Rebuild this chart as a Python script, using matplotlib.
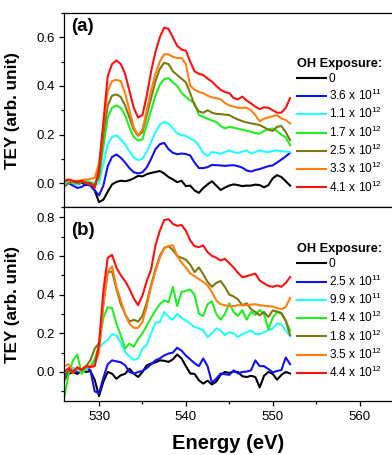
import numpy as np
import matplotlib
matplotlib.use('Agg')
import matplotlib.pyplot as plt
from matplotlib.ticker import MultipleLocator

plt.rcParams['font.family'] = ['Liberation Sans', 'DejaVu Sans']
plt.rcParams['mathtext.fontset'] = 'custom'
plt.rcParams['mathtext.rm'] = 'Liberation Sans'
plt.rcParams['mathtext.it'] = 'Liberation Sans:italic'
plt.rcParams['mathtext.bf'] = 'Liberation Sans:bold'

# energy grid (eV), 0.5 eV steps from 526 to 552
energy = np.arange(526, 552.25, 0.5)

colors = ['black', '#1010ff', '#22ffff', '#22ee22', '#7a7a10', '#ff8010', '#ff1010']

# ---- panel (a) ----
labels_a = ['0', '3.6 x 10$^{11}$', '1.1 x 10$^{12}$', '1.7 x 10$^{12}$',
            '2.5 x 10$^{12}$', '3.3 x 10$^{12}$', '4.1 x 10$^{12}$']

a0 = [0.005, 0.010, 0.000, -0.005, 0.002, -0.008, -0.004, -0.030, -0.078, -0.068,
      -0.035, -0.005, 0.005, 0.010, 0.008, 0.012, 0.020, 0.030, 0.028, 0.037,
      0.042, 0.046, 0.050, 0.040, 0.025, 0.016, 0.004, 0.010, -0.012, -0.010,
      -0.030, -0.040, -0.020, -0.005, 0.008, -0.010, -0.028, -0.018, -0.010, -0.005,
      -0.008, -0.012, -0.010, -0.010, -0.006, -0.008, -0.017, -0.008, 0.020, 0.033,
      0.025, 0.008, -0.010]
a1 = [0.005, 0.000, -0.010, -0.020, -0.015, -0.005, -0.010, -0.030, -0.050, -0.010,
      0.070, 0.108, 0.118, 0.105, 0.085, 0.062, 0.045, 0.040, 0.045, 0.065,
      0.100, 0.140, 0.160, 0.166, 0.140, 0.125, 0.119, 0.122, 0.120, 0.114,
      0.085, 0.062, 0.062, 0.066, 0.075, 0.074, 0.073, 0.071, 0.073, 0.074,
      0.070, 0.064, 0.052, 0.048, 0.054, 0.058, 0.064, 0.070, 0.073, 0.085,
      0.097, 0.110, 0.125]
a2 = [0.000, 0.005, 0.000, -0.005, 0.005, 0.012, 0.005, -0.010, 0.000, 0.080,
      0.160, 0.190, 0.197, 0.180, 0.160, 0.130, 0.105, 0.095, 0.100, 0.130,
      0.170, 0.210, 0.240, 0.252, 0.245, 0.225, 0.205, 0.198, 0.195, 0.184,
      0.175, 0.155, 0.125, 0.112, 0.128, 0.125, 0.121, 0.128, 0.135, 0.128,
      0.124, 0.130, 0.135, 0.122, 0.128, 0.135, 0.130, 0.128, 0.132, 0.135,
      0.132, 0.130, 0.128]
a3 = [0.005, 0.010, 0.005, 0.000, 0.005, 0.008, 0.002, 0.000, 0.020, 0.150,
      0.270, 0.310, 0.320, 0.310, 0.280, 0.230, 0.190, 0.175, 0.180, 0.240,
      0.300, 0.360, 0.405, 0.428, 0.432, 0.415, 0.400, 0.372, 0.355, 0.340,
      0.329, 0.280, 0.273, 0.265, 0.258, 0.252, 0.235, 0.225, 0.232, 0.228,
      0.224, 0.220, 0.216, 0.211, 0.206, 0.204, 0.215, 0.222, 0.225, 0.213,
      0.200, 0.188, 0.156]
a4 = [-0.015, 0.000, 0.005, 0.000, 0.005, 0.000, -0.005, -0.010, 0.030, 0.200,
      0.320, 0.360, 0.365, 0.355, 0.320, 0.270, 0.220, 0.195, 0.210, 0.280,
      0.350, 0.420, 0.470, 0.495, 0.490, 0.460, 0.445, 0.430, 0.415, 0.370,
      0.320, 0.295, 0.290, 0.300, 0.290, 0.285, 0.284, 0.282, 0.280, 0.270,
      0.262, 0.255, 0.250, 0.246, 0.243, 0.239, 0.230, 0.220, 0.215, 0.232,
      0.235, 0.210, 0.177]
a5 = [0.010, 0.012, 0.008, 0.010, 0.012, 0.015, 0.018, 0.022, 0.080, 0.240,
      0.380, 0.420, 0.425, 0.420, 0.370, 0.300, 0.230, 0.197, 0.220, 0.300,
      0.380, 0.450, 0.500, 0.530, 0.530, 0.520, 0.515, 0.515, 0.490, 0.400,
      0.385, 0.375, 0.370, 0.360, 0.353, 0.350, 0.345, 0.330, 0.320, 0.315,
      0.310, 0.310, 0.310, 0.300, 0.280, 0.255, 0.265, 0.270, 0.275, 0.280,
      0.266, 0.260, 0.246]
a6 = [0.010, 0.015, 0.010, 0.005, 0.010, 0.000, 0.000, -0.020, 0.060, 0.250,
      0.440, 0.490, 0.505, 0.490, 0.450, 0.380, 0.310, 0.270, 0.280, 0.360,
      0.460, 0.540, 0.600, 0.640, 0.635, 0.600, 0.565, 0.550, 0.545, 0.500,
      0.460, 0.450, 0.445, 0.430, 0.418, 0.400, 0.384, 0.375, 0.370, 0.350,
      0.345, 0.356, 0.340, 0.328, 0.315, 0.305, 0.312, 0.310, 0.300, 0.290,
      0.290, 0.310, 0.350]

# ---- panel (b) ----
labels_b = ['0', '2.5 x 10$^{11}$', '9.9 x 10$^{11}$', '1.4 x 10$^{12}$',
            '1.8 x 10$^{12}$', '3.5 x 10$^{12}$', '4.4 x 10$^{12}$']

b0 = [-0.040, -0.010, 0.000, -0.010, 0.010, 0.000, 0.005, -0.040, -0.125, -0.050,
      0.000, -0.009, -0.035, -0.017, -0.010, 0.017, -0.009, -0.026, 0.000, 0.035,
      0.043, 0.050, 0.060, 0.058, 0.052, 0.065, 0.090, 0.070, 0.030, -0.008,
      -0.010, -0.043, -0.060, -0.045, -0.065, -0.050, -0.015, 0.000, -0.005, 0.002,
      0.000, -0.022, -0.026, -0.020, -0.026, -0.080, -0.020, 0.000, -0.010, -0.040,
      -0.015, 0.000, -0.008]
b1 = [-0.025, 0.010, 0.020, 0.000, 0.015, 0.025, 0.010, -0.100, -0.110, -0.030,
      0.040, 0.060, 0.055, 0.050, 0.035, 0.000, -0.009, 0.000, 0.005, 0.020,
      0.040, 0.060, 0.070, 0.085, 0.095, 0.100, 0.125, 0.110, 0.085, 0.065,
      0.045, 0.030, 0.070, 0.030, -0.055, -0.035, -0.008, -0.012, -0.015, 0.008,
      -0.008, 0.000, 0.002, 0.008, 0.060, 0.030, 0.030, 0.015, -0.002, 0.005,
      0.010, 0.075, 0.040]
b2 = [0.000, 0.010, 0.020, 0.010, 0.000, 0.015, 0.030, 0.070, 0.125, 0.150,
      0.165, 0.195, 0.190, 0.150, 0.103, 0.080, 0.062, 0.070, 0.120, 0.140,
      0.200, 0.255, 0.258, 0.310, 0.285, 0.270, 0.300, 0.280, 0.265, 0.250,
      0.232, 0.225, 0.215, 0.180, 0.200, 0.225, 0.215, 0.190, 0.205, 0.200,
      0.180, 0.195, 0.205, 0.215, 0.195, 0.195, 0.205, 0.215, 0.225, 0.250,
      0.245, 0.215, 0.185]
b3 = [-0.130, -0.010, 0.060, 0.090, -0.010, 0.020, 0.030, 0.060, 0.140, 0.280,
      0.335, 0.330, 0.250, 0.190, 0.121, 0.147, 0.130, 0.170, 0.200, 0.240,
      0.280, 0.318, 0.350, 0.370, 0.360, 0.440, 0.340, 0.413, 0.420, 0.425,
      0.400, 0.300, 0.290, 0.350, 0.365, 0.300, 0.270, 0.300, 0.355, 0.310,
      0.290, 0.320, 0.270, 0.310, 0.295, 0.320, 0.300, 0.220, 0.280, 0.310,
      0.300, 0.265, 0.215]
b4 = [-0.040, 0.010, -0.005, 0.020, 0.010, 0.030, 0.060, 0.120, 0.150, 0.350,
      0.515, 0.520, 0.430, 0.350, 0.300, 0.260, 0.270, 0.260, 0.290, 0.360,
      0.450, 0.530, 0.600, 0.640, 0.650, 0.630, 0.600, 0.590, 0.580, 0.555,
      0.516, 0.540, 0.505, 0.465, 0.440, 0.460, 0.470, 0.439, 0.400, 0.390,
      0.375, 0.345, 0.355, 0.325, 0.310, 0.293, 0.310, 0.284, 0.318, 0.312,
      0.305, 0.265, 0.190]
b5 = [0.030, 0.040, 0.000, 0.020, 0.015, 0.030, 0.030, 0.040, 0.100, 0.350,
      0.520, 0.545, 0.440, 0.370, 0.300, 0.250, 0.228, 0.228, 0.260, 0.340,
      0.440, 0.520, 0.590, 0.640, 0.650, 0.655, 0.600, 0.565, 0.540, 0.510,
      0.495, 0.480, 0.465, 0.447, 0.413, 0.370, 0.350, 0.345, 0.340, 0.340,
      0.345, 0.345, 0.345, 0.348, 0.350, 0.345, 0.342, 0.340, 0.338, 0.330,
      0.325, 0.335, 0.383]
b6 = [0.000, 0.020, 0.000, 0.025, 0.010, 0.030, 0.025, 0.030, 0.140, 0.420,
      0.590, 0.605, 0.540, 0.500, 0.470, 0.430, 0.380, 0.345, 0.395, 0.470,
      0.530, 0.655, 0.730, 0.785, 0.790, 0.765, 0.755, 0.760, 0.730, 0.680,
      0.650, 0.645, 0.654, 0.619, 0.600, 0.590, 0.576, 0.585, 0.562, 0.540,
      0.512, 0.490, 0.495, 0.502, 0.508, 0.473, 0.458, 0.445, 0.440, 0.447,
      0.440, 0.460, 0.490]

series_a = [a0, a1, a2, a3, a4, a5, a6]
series_b = [b0, b1, b2, b3, b4, b5, b6]

fig = plt.figure(figsize=(3.92, 4.55), dpi=100)
ax1 = fig.add_axes([0.164, 0.544, 0.864, 0.4274])
ax2 = fig.add_axes([0.164, 0.1187, 0.864, 0.4253])


def style_axis(ax, ylim, legend_y, labels, series, tag, tag_y):
    for y, c, lab in zip(series, colors, labels):
        ax.plot(energy, y, color=c, lw=1.5, label=lab)
    ax.set_xlim(526, 565)
    ax.set_ylim(*ylim)
    ax.yaxis.set_major_locator(MultipleLocator(0.2))
    ax.yaxis.set_minor_locator(MultipleLocator(0.1))
    ax.tick_params(which='both', direction='out', width=0.9, labelsize=9.5)
    ax.tick_params(which='major', length=3.5)
    ax.tick_params(which='minor', length=2.5)
    for s in ax.spines.values():
        s.set_linewidth(0.9)
    ax.set_ylabel('TEY (arb. unit)', fontsize=12.3, fontweight='bold')
    ax.yaxis.set_label_coords(-0.131, 0.5)
    ax.text(0.02, tag_y, tag, transform=ax.transAxes, fontsize=13.5,
            fontweight='bold', va='top', ha='left')
    leg = ax.legend(loc='upper left', bbox_to_anchor=(0.687, legend_y),
                    frameon=False, fontsize=8.6, title='OH Exposure:',
                    title_fontproperties={'weight': 'bold', 'size': 9.2},
                    handlelength=2.4, handletextpad=0.25, labelspacing=0.26,
                    borderpad=0, borderaxespad=0, alignment='left')
    return leg


style_axis(ax1, (-0.1, 0.7), 0.77, labels_a, series_a, '(a)', 0.975)
style_axis(ax2, (-0.15, 0.85), 0.815, labels_b, series_b, '(b)', 0.925)

ax1.xaxis.set_major_locator(MultipleLocator(5))
ax1.xaxis.set_minor_locator(MultipleLocator(2.5))
ax1.tick_params(axis='x', labelbottom=False)

ax2.xaxis.set_major_locator(MultipleLocator(10))
ax2.xaxis.set_minor_locator(MultipleLocator(5))
ax2.set_xlabel('Energy (eV)', fontsize=14.5, fontweight='bold')
ax2.xaxis.set_label_coords(0.483, -0.17)

fig.savefig('out.png', dpi=100)
